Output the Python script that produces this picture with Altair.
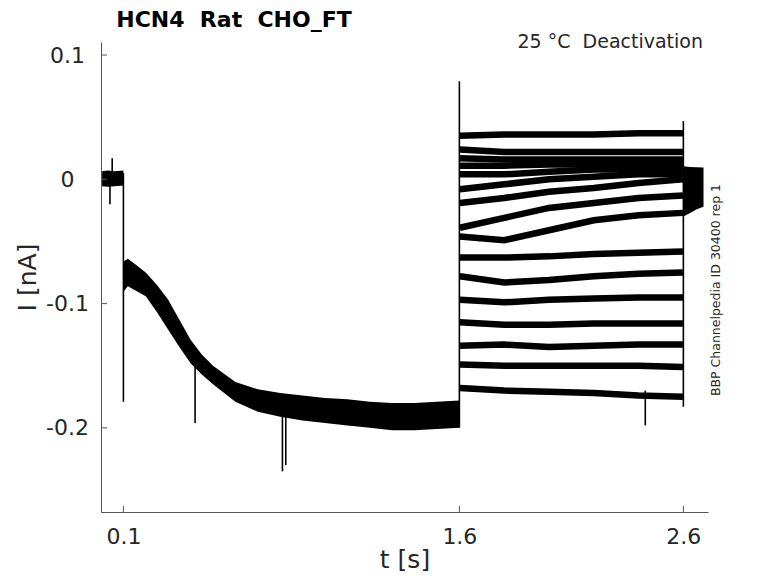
import altair as alt
import pandas as pd

X_DOMAIN = [0.0, 2.71]
Y_DOMAIN = [-0.2677, 0.1105]
X_TICKS = [0.1, 1.6, 2.6]
Y_TICKS = [0.1, 0.0, -0.1, -0.2]

# holding segment (noisy band around 0)
hold_t = [0.005, 0.03, 0.06, 0.1]
hold_hi = [0.0065, 0.0070, 0.0065, 0.0070]
hold_lo = [-0.0055, -0.0060, -0.0055, -0.0050]

# activation step (noisy band, upper / lower edge)
act_t = [0.102, 0.12, 0.15, 0.2, 0.25, 0.3, 0.35, 0.4, 0.45, 0.5, 0.6,
         0.7, 0.8, 0.9, 1.0, 1.1, 1.2, 1.3, 1.4, 1.5, 1.6]
act_hi = [-0.066, -0.064, -0.068, -0.075, -0.085, -0.097, -0.113, -0.129,
          -0.141, -0.150, -0.163, -0.169, -0.172, -0.174, -0.176, -0.177,
          -0.179, -0.180, -0.180, -0.179, -0.178]
act_lo = [-0.090, -0.086, -0.089, -0.094, -0.107, -0.121, -0.135, -0.148,
          -0.157, -0.165, -0.179, -0.187, -0.191, -0.194, -0.196, -0.198,
          -0.200, -0.202, -0.202, -0.201, -0.200]

# deactivation sweeps
deact_t = [1.602, 1.8, 2.0, 2.2, 2.4, 2.598]
deact_traces = [
    [0.035, 0.036, 0.036, 0.036, 0.037, 0.037],
    [0.024, 0.022, 0.022, 0.022, 0.022, 0.022],
    [0.017, 0.016, 0.016, 0.016, 0.016, 0.016],
    [0.011, 0.011, 0.012, 0.012, 0.012, 0.012],
    [0.004, 0.004, 0.006, 0.008, 0.008, 0.008],
    [-0.008, -0.004, 0.000, 0.002, 0.004, 0.004],
    [-0.019, -0.015, -0.010, -0.007, -0.003, 0.000],
    [-0.039, -0.031, -0.023, -0.019, -0.015, -0.013],
    [-0.046, -0.049, -0.041, -0.033, -0.029, -0.027],
    [-0.063, -0.063, -0.062, -0.060, -0.059, -0.058],
    [-0.078, -0.083, -0.081, -0.078, -0.076, -0.075],
    [-0.097, -0.099, -0.097, -0.096, -0.095, -0.095],
    [-0.115, -0.117, -0.117, -0.116, -0.116, -0.116],
    [-0.134, -0.133, -0.135, -0.134, -0.133, -0.133],
    [-0.149, -0.150, -0.150, -0.150, -0.150, -0.151],
    [-0.168, -0.170, -0.171, -0.172, -0.174, -0.175],
]

# tail after the step
tail_t = [2.6, 2.63, 2.66, 2.69]
tail_hi = [0.0105, 0.0100, 0.0097, 0.0095]
tail_lo = [-0.030, -0.027, -0.024, -0.022]

# vertical transients / spikes
spike_t = [0.04, 0.05, 0.1, 0.42, 0.81, 0.825, 1.6, 2.43, 2.6]
spike_top = [0.0, 0.017, 0.005, -0.15, -0.19, -0.19, 0.079, -0.17, 0.047]
spike_bot = [-0.02, 0.0, -0.179, -0.196, -0.235, -0.23, -0.20, -0.198, -0.183]

W, H = 607, 470
FONT = "DejaVu Sans"
TXT = "#262626"
NB = "\u00a0"

xs = alt.Scale(domain=X_DOMAIN, nice=False, zero=False)
ys = alt.Scale(domain=Y_DOMAIN, nice=False, zero=False)

X_AX = alt.Axis(
    values=X_TICKS, format=".1f", title="t [s]", grid=False, ticks=False,
    domainColor="#555555", labelFont=FONT, labelFontSize=22, labelColor=TXT,
    labelPadding=14, titleFont=FONT, titleFontSize=25, titleFontWeight="normal",
    titleColor=TXT, titleY=55, titleBaseline="alphabetic")
Y_AX = alt.Axis(
    values=Y_TICKS, title="I [nA]", grid=False, ticks=False,
    labelExpr="datum.value == 0 ? '0' : replace(format(datum.value, '.1f'), '\u2212', '-')",
    domainColor="#555555", labelFont=FONT, labelFontSize=22, labelColor=TXT,
    labelAlign="center", labelBaseline="middle", labelPadding=34,
    titleFont=FONT, titleFontSize=25, titleFontWeight="normal", titleColor=TXT,
    titleX=-74, titleY=H / 2, titleAngle=270, titleAlign="center",
    titleBaseline="middle")

band_df = pd.concat([
    pd.DataFrame({"t": hold_t, "hi": hold_hi, "lo": hold_lo, "seg": "hold"}),
    pd.DataFrame({"t": act_t, "hi": act_hi, "lo": act_lo, "seg": "act"}),
    pd.DataFrame({"t": tail_t, "hi": tail_hi, "lo": tail_lo, "seg": "tail"}),
])

rows = []
for i, tr in enumerate(deact_traces):
    for t, v in zip(deact_t, tr):
        rows.append({"t": t, "v": v, "sweep": i})
deact_df = pd.DataFrame(rows)

spike_df = pd.DataFrame({"t": spike_t, "top": spike_top, "bot": spike_bot})

bands = alt.Chart(band_df).mark_area(color="black", opacity=1).encode(
    x=alt.X("t:Q", scale=xs, axis=X_AX),
    y=alt.Y("hi:Q", scale=ys, axis=Y_AX),
    y2="lo:Q",
    detail="seg:N",
)

sweeps = alt.Chart(deact_df).mark_line(color="black", strokeWidth=6.5, strokeCap="butt").encode(
    x=alt.X("t:Q", scale=xs, axis=X_AX),
    y=alt.Y("v:Q", scale=ys, axis=Y_AX),
    detail="sweep:N",
)

spikes = alt.Chart(spike_df).mark_rule(color="black", strokeWidth=1.6).encode(
    x=alt.X("t:Q", scale=xs, axis=X_AX),
    y=alt.Y("top:Q", scale=ys, axis=Y_AX),
    y2="bot:Q",
)

ytick = alt.Chart(pd.DataFrame({"v": Y_TICKS})).mark_rule(color="#555555", strokeWidth=1).encode(
    y=alt.Y("v:Q", scale=ys, axis=Y_AX), x=alt.value(0), x2=alt.value(6))
xtick = alt.Chart(pd.DataFrame({"t": X_TICKS})).mark_rule(color="#555555", strokeWidth=1).encode(
    x=alt.X("t:Q", scale=xs, axis=X_AX), y=alt.value(H), y2=alt.value(H - 6))

def label(text, x, y, size, weight="normal", align="center", baseline="alphabetic", angle=0):
    return alt.Chart(pd.DataFrame({"s": [text]})).mark_text(
        font=FONT, fontSize=size, fontWeight=weight, color="black" if weight == "bold" else TXT,
        align=align, baseline=baseline, angle=angle,
    ).encode(text="s:N", x=alt.value(x), y=alt.value(y))

title = label("HCN4" + NB + NB + "Rat" + NB + NB + "CHO_FT", 133, -15, 22, weight="bold")
cond = label("25 °C" + NB + NB + "Deactivation", 602, 6, 19, align="right")
side = label("BBP Channelpedia ID 30400 rep 1", 615, 248, 12.5, baseline="middle", angle=270)

chart = alt.layer(bands, sweeps, spikes, ytick, xtick, title, cond, side).properties(
    width=W, height=H,
    padding={"left": 93, "top": 34, "right": 50, "bottom": 63},
    autosize=alt.AutoSizeParams(type="none"),
).configure(background="white").configure_view(stroke=None)

chart.save("out.html", embed_options={"renderer": "svg", "actions": False})
